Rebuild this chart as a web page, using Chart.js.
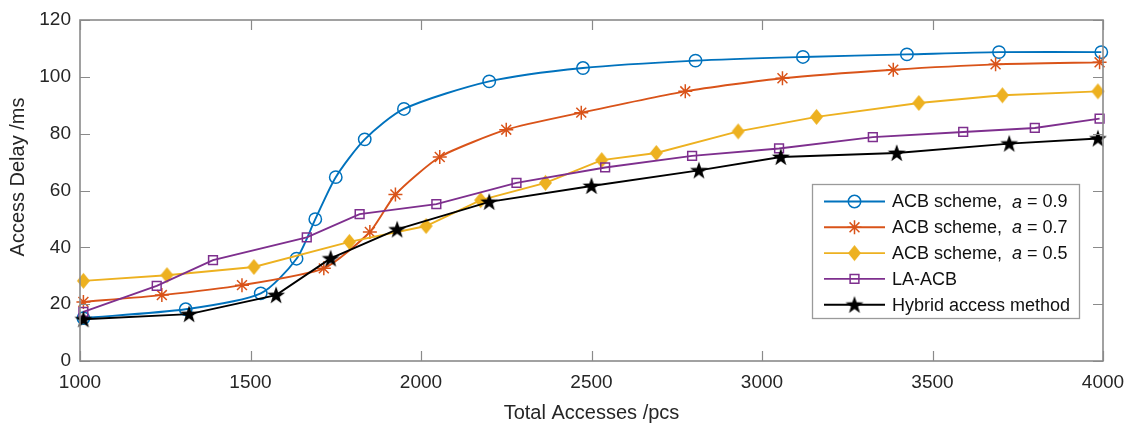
<!DOCTYPE html>
<html>
<head>
<meta charset="utf-8">
<script src="https://cdn.jsdelivr.net/npm/chart.js@4"></script>
<style>
html,body{margin:0;padding:0;background:#fff;}
canvas{display:block;}
</style>
</head>
<body>
<canvas id="c" width="1130" height="426"></canvas>
<script>
// ---- data ----
const xTicks = [1000, 1500, 2000, 2500, 3000, 3500, 4000];
const yTicks = [0, 20, 40, 60, 80, 100, 120];

const acb09X = [1010, 1310, 1530, 1635, 1690, 1750, 1835, 1950, 2200, 2475, 2805, 3120, 3425, 3695, 3995];
const acb09Y = [15.1, 18.2, 23.8, 36.0, 49.9, 64.7, 78.0, 88.7, 98.4, 103.1, 105.7, 107.0, 107.9, 108.7, 108.7];

const acb07X = [1010, 1240, 1475, 1715, 1850, 1925, 2055, 2250, 2470, 2775, 3060, 3385, 3685, 3990];
const acb07Y = [20.8, 23.2, 26.7, 32.6, 45.4, 58.6, 71.8, 81.4, 87.4, 94.9, 99.5, 102.5, 104.4, 105.1];

const acb05X = [1010, 1255, 1510, 1790, 2015, 2175, 2365, 2530, 2690, 2930, 3160, 3460, 3705, 3985];
const acb05Y = [28.2, 30.2, 33.1, 41.9, 47.5, 56.6, 62.7, 70.7, 73.2, 80.8, 85.9, 90.8, 93.5, 94.9];

const laacbX = [1010, 1225, 1390, 1665, 1820, 2045, 2280, 2540, 2795, 3050, 3325, 3590, 3800, 3990];
const laacbY = [17.3, 26.4, 35.5, 43.5, 51.7, 55.2, 62.7, 68.1, 72.2, 74.8, 78.8, 80.6, 82.0, 85.3];

const hybridX = [1010, 1320, 1575, 1735, 1930, 2200, 2500, 2815, 3055, 3395, 3725, 3985];
const hybridY = [14.7, 16.5, 23.2, 36.1, 46.3, 56.0, 61.6, 67.1, 71.8, 73.2, 76.5, 78.3];

const seriesNames = ['ACB scheme,', 'ACB scheme,', 'ACB scheme,', 'LA-ACB', 'Hybrid access method'];
const alphaValues = ['0.9', '0.7', '0.5', null, null];
const xTitle = 'Total Accesses /pcs';
const yTitle = 'Access Delay /ms';

// ---- styling ----
const COLORS = ['#0072BD', '#D95319', '#EDB120', '#7E2F8E', '#000000'];
const FONT = '"Liberation Sans", Arial, Helvetica, sans-serif';
const AXIS_COLOR = '#8a8a8a';
const TEXT_COLOR = '#262626';

function pts(xs, ys) { return xs.map((x, i) => ({x: x, y: ys[i]})); }

function makeDiamond() {
  const c = document.createElement('canvas');
  c.width = 15; c.height = 18;
  const g = c.getContext('2d');
  g.fillStyle = COLORS[2];
  g.beginPath();
  g.moveTo(7.5, 1); g.lineTo(14, 9); g.lineTo(7.5, 17); g.lineTo(1, 9); g.closePath();
  g.fill();
  return c;
}
function makeStar() {
  const c = document.createElement('canvas');
  c.width = 20; c.height = 20;
  const g = c.getContext('2d');
  g.fillStyle = '#000';
  g.beginPath();
  const cx = 10, cy = 10.6, ro = 9.4, ri = 3.7;
  for (let i = 0; i < 10; i++) {
    const r = i % 2 === 0 ? ro : ri;
    const a = -Math.PI / 2 + i * Math.PI / 5;
    const px = cx + r * Math.cos(a), py = cy + r * Math.sin(a);
    if (i === 0) g.moveTo(px, py); else g.lineTo(px, py);
  }
  g.closePath();
  g.fill();
  return c;
}
const diamondImg = makeDiamond();
const starImg = makeStar();

const styles = [
  {pointStyle: 'circle', radius: 6.2, bg: 'rgba(0,0,0,0)', tension: 0.25},
  {pointStyle: 'star', radius: 7, bg: 'rgba(0,0,0,0)', tension: 0.2},
  {pointStyle: diamondImg, radius: 8, bg: COLORS[2], tension: 0},
  {pointStyle: 'rect', radius: 6.2, bg: 'rgba(0,0,0,0)', tension: 0},
  {pointStyle: starImg, radius: 8, bg: '#000', tension: 0}
];

const allData = [pts(acb09X, acb09Y), pts(acb07X, acb07Y), pts(acb05X, acb05Y), pts(laacbX, laacbY), pts(hybridX, hybridY)];

const datasets = allData.map((d, i) => ({
  label: seriesNames[i] + (alphaValues[i] ? ' a = ' + alphaValues[i] : ''),
  data: d,
  borderColor: COLORS[i],
  backgroundColor: styles[i].bg,
  borderWidth: 1.9,
  pointStyle: styles[i].pointStyle,
  pointRadius: styles[i].radius,
  pointBorderColor: COLORS[i],
  pointBackgroundColor: styles[i].bg,
  pointBorderWidth: 1.5,
  tension: styles[i].tension,
  fill: false,
  clip: false,
  order: 4 - i
}));

const frame = {
  id: 'frame',
  afterDraw(chart) {
    const ctx = chart.ctx;
    const a = chart.chartArea;
    const xs = chart.scales.x, ys = chart.scales.y;
    ctx.save();
    // box
    ctx.strokeStyle = AXIS_COLOR;
    ctx.lineWidth = 1.6;
    ctx.strokeRect(a.left, a.top, a.right - a.left, a.bottom - a.top);
    // inward ticks
    ctx.beginPath();
    const tl = 10;
    xTicks.forEach(v => {
      const px = Math.round(xs.getPixelForValue(v)) + 0.5;
      ctx.moveTo(px, a.bottom); ctx.lineTo(px, a.bottom - tl);
      ctx.moveTo(px, a.top); ctx.lineTo(px, a.top + tl);
    });
    yTicks.forEach(v => {
      const py = Math.round(ys.getPixelForValue(v)) + 0.5;
      ctx.moveTo(a.left, py); ctx.lineTo(a.left + tl, py);
      ctx.moveTo(a.right, py); ctx.lineTo(a.right - tl, py);
    });
    ctx.lineWidth = 1.2;
    ctx.stroke();

    // axis titles
    ctx.fillStyle = TEXT_COLOR;
    ctx.font = '20px ' + FONT;
    ctx.textAlign = 'center';
    ctx.textBaseline = 'alphabetic';
    ctx.fillText(xTitle, (a.left + a.right) / 2, 419);
    ctx.save();
    ctx.translate(24, 177);
    ctx.rotate(-Math.PI / 2);
    ctx.fillText(yTitle, 0, 0);
    ctx.restore();

    // legend
    const L = {x: 812, y: 184, w: 267, h: 134};
    ctx.fillStyle = '#fff';
    ctx.fillRect(L.x, L.y, L.w, L.h);
    ctx.strokeStyle = '#9a9a9a';
    ctx.lineWidth = 1.3;
    ctx.strokeRect(L.x + 0.5, L.y + 0.5, L.w, L.h);
    const rowY0 = 201.5, rowDy = 25.8;
    chart.data.datasets.forEach((ds, i) => {
      const y = rowY0 + i * rowDy;
      ctx.strokeStyle = ds.borderColor;
      ctx.lineWidth = 1.9;
      ctx.beginPath();
      ctx.moveTo(824, y); ctx.lineTo(885, y);
      ctx.stroke();
      const st = ds.pointStyle;
      if (typeof st === 'string') {
        ctx.strokeStyle = ds.pointBorderColor;
        ctx.fillStyle = ds.pointBackgroundColor;
        ctx.lineWidth = 1.5;
        Chart.helpers.drawPoint(ctx, {pointStyle: st, radius: ds.pointRadius, borderWidth: 1.5, rotation: 0}, 854.5, y);
      } else {
        ctx.drawImage(st, 854.5 - st.width / 2, y - st.height / 2);
      }
      ctx.fillStyle = '#111';
      ctx.textAlign = 'left';
      ctx.textBaseline = 'middle';
      ctx.font = '18px ' + FONT;
      let tx = 892;
      ctx.fillText(seriesNames[i], tx, y + 1);
      if (alphaValues[i]) {
        tx += ctx.measureText(seriesNames[i] + '  ').width;
        ctx.font = 'italic 18px ' + FONT;
        ctx.fillText('a', tx, y + 1);
        tx += ctx.measureText('a').width;
        ctx.font = '18px ' + FONT;
        ctx.fillText(' = ' + alphaValues[i], tx, y + 1);
      }
    });
    ctx.restore();
  }
};

new Chart(document.getElementById('c'), {
  type: 'line',
  data: {datasets: datasets},
  options: {
    responsive: false,
    animation: false,
    devicePixelRatio: 1,
    layout: {padding: {left: 0, right: 27, top: 20, bottom: 0}},
    plugins: {legend: {display: false}, tooltip: {enabled: false}},
    scales: {
      x: {
        type: 'linear', min: 1000, max: 4000,
        afterBuildTicks(s) { s.ticks = xTicks.map(v => ({value: v})); },
        ticks: {font: {family: FONT, size: 19}, color: TEXT_COLOR, padding: 10, maxRotation: 0, autoSkip: false,
                callback: v => String(v)},
        grid: {display: false, drawTicks: false},
        border: {display: false},
        afterFit(s) { s.height = 65; s.paddingLeft = 0; s.paddingRight = 0; }
      },
      y: {
        type: 'linear', min: 0, max: 120,
        afterBuildTicks(s) { s.ticks = yTicks.map(v => ({value: v})); },
        ticks: {font: {family: FONT, size: 19}, color: TEXT_COLOR, padding: 9, callback: v => String(v)},
        grid: {display: false, drawTicks: false},
        border: {display: false},
        afterFit(s) { s.width = 80; s.paddingTop = 0; s.paddingBottom = 0; }
      }
    }
  },
  plugins: [frame]
});
</script>
</body>
</html>
